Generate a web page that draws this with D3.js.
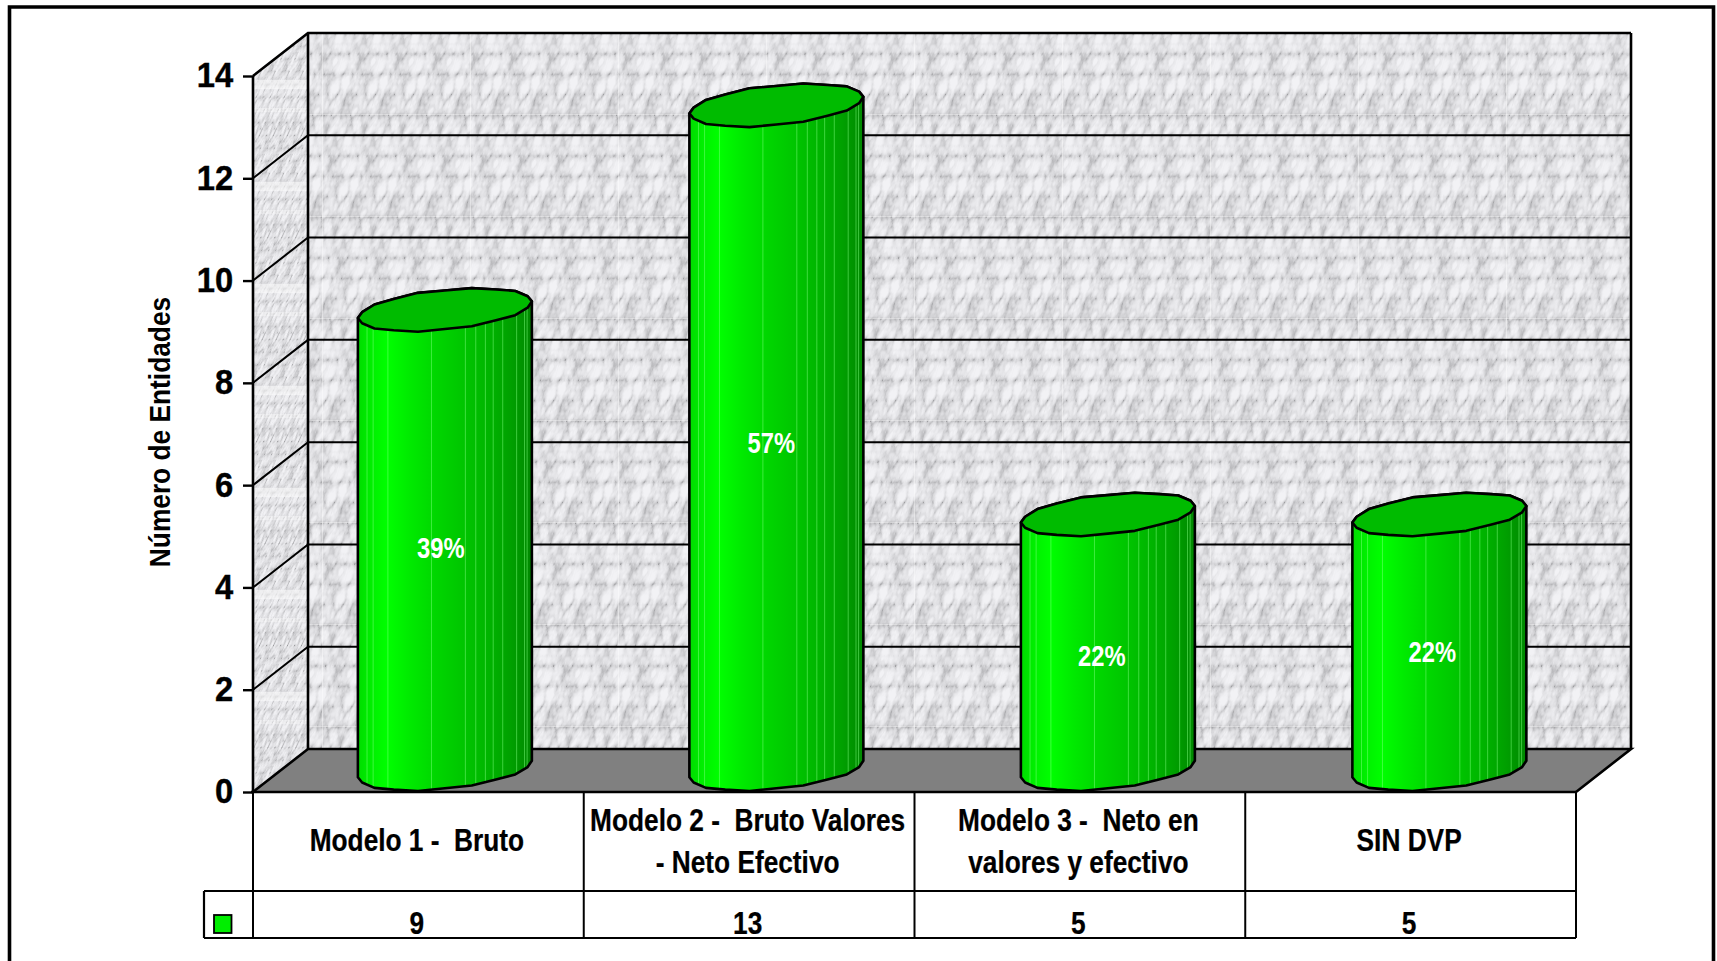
<!DOCTYPE html>
<html><head><meta charset="utf-8">
<style>html,body{margin:0;padding:0;background:#fff;overflow:hidden}svg{display:block}
text{font-family:"Liberation Sans",Arial,sans-serif;font-weight:bold;fill:#000}</style>
<script src="https://cdn.jsdelivr.net/npm/d3@7"></script></head><body>
<script>
const categories = ["Modelo 1 -  Bruto", "Modelo 2 -  Bruto Valores|- Neto Efectivo", "Modelo 3 -  Neto en|valores y efectivo", "SIN DVP"];
const values = [9, 13, 5, 5];
const shares = ["39%", "57%", "22%", "22%"];
const yTicks = [0, 2, 4, 6, 8, 10, 12, 14];
const axisTitle = "Número de Entidades";

const W = 1717, H = 961, DX = 55, DY = 43;
const L = 253, R = 1576, Y0 = 792, Y14 = 76;
const x = d3.scaleBand().domain(categories).range([L, R]);
const y = d3.scaleLinear().domain([0, 14]).range([Y0, Y14]);
const svg = d3.select("body").append("svg").attr("width", W).attr("height", H);
const defs = svg.append("defs");

// marble textures: inverted turbulence gives thin grey veins on a pale ground
function marble(id, fx, fy, seed, tab) {
  const f = defs.append("filter").attr("id", id).attr("x", 0).attr("y", 0).attr("width", 1).attr("height", 1)
    .attr("color-interpolation-filters", "sRGB");
  f.append("feTurbulence").attr("type", "turbulence").attr("baseFrequency", fx + " " + fy)
    .attr("numOctaves", 3).attr("seed", seed).attr("stitchTiles", "stitch");
  f.append("feColorMatrix").attr("type", "matrix").attr("values", "1.1 0.9 0 0 0  1.1 0.9 0 0 0  1.1 0.9 0 0 0  0 0 0 0 1");
  const t = f.append("feComponentTransfer");
  t.append("feFuncR").attr("type", "table").attr("tableValues", tab);
  t.append("feFuncG").attr("type", "table").attr("tableValues", tab);
  t.append("feFuncB").attr("type", "table").attr("tableValues", tab.split(" ").map(v => Math.min(1, +v + .012)).join(" "));
}
const marbleTable = "0.60 0.70 0.77 0.82 0.86 0.89 0.91 0.93 0.95";
marble("mBack", 0.105, 0.052, 5, marbleTable);
marble("mSide", 0.29, 0.078, 11, marbleTable);

const pb = defs.append("pattern").attr("id", "pBack").attr("patternUnits", "userSpaceOnUse")
  .attr("width", 38).attr("height", 102).attr("x", 308).attr("y", 34).attr("patternTransform", "skewX(-16)");
pb.append("rect").attr("width", 38).attr("height", 102).attr("filter", "url(#mBack)");

const ps = defs.append("pattern").attr("id", "pSide").attr("patternUnits", "userSpaceOnUse")
  .attr("width", 14).attr("height", 102).attr("x", 253).attr("y", 34).attr("patternTransform", "skewX(-25)");
ps.append("rect").attr("width", 14).attr("height", 102).attr("filter", "url(#mSide)");

// faint light seams of the tiled wallpaper
const seams = defs.append("pattern").attr("id", "pSeam").attr("patternUnits", "userSpaceOnUse")
  .attr("width", 148).attr("height", 102).attr("x", 322).attr("y", 34);
seams.append("rect").attr("y", 80).attr("width", 148).attr("height", 1).attr("fill", "#fff").attr("opacity", .35);
seams.append("rect").attr("x", 0).attr("width", 1).attr("height", 102).attr("fill", "#fff").attr("opacity", .4);

const bands = defs.append("pattern").attr("id", "pBand").attr("patternUnits", "userSpaceOnUse")
  .attr("width", 14).attr("height", 102).attr("x", 253).attr("y", 34);
bands.append("rect").attr("y", 46).attr("width", 14).attr("height", 9).attr("fill", "#fff").attr("opacity", .5);
bands.append("rect").attr("y", 74).attr("width", 14).attr("height", 4).attr("fill", "#fff").attr("opacity", .35);

const stops = [[0, "#00dc00"], [.08, "#00f000"], [.17, "#00ff00"], [.3, "#00ea00"], [.45, "#00d600"], [.6, "#00c600"], [.75, "#00b400"], [.88, "#00a000"], [1, "#008800"]];
const grad = defs.append("linearGradient").attr("id", "cyl");
stops.forEach(s => grad.append("stop").attr("offset", s[0]).attr("stop-color", s[1]));

const lw = 2.6;
const g = svg.append("g");

// walls and floor
const backTop = y(14) - DY, backBot = y(0) - DY;
g.append("rect").attr("x", L + DX).attr("y", backTop).attr("width", R - L).attr("height", backBot - backTop).attr("fill", "url(#pBack)");
g.append("rect").attr("x", L + DX).attr("y", backTop).attr("width", R - L).attr("height", backBot - backTop).attr("fill", "url(#pSeam)");
const sideD = `M${L},${y(0)}L${L},${y(14)}L${L + DX},${backTop}L${L + DX},${backBot}Z`;
g.append("path").attr("d", sideD).attr("fill", "url(#pSide)");
g.append("path").attr("d", sideD).attr("fill", "url(#pBand)");
g.append("path").attr("d", `M${L},${y(0)}L${R},${y(0)}L${R + DX},${backBot}L${L + DX},${backBot}Z`).attr("fill", "#808080");

// gridlines
yTicks.forEach(t => {
  if (t > 0) g.append("path").attr("d", `M${L},${y(t)}L${L + DX},${y(t) - DY}L${R + DX},${y(t) - DY}`).attr("fill", "none").attr("stroke", "#000").attr("stroke-width", t === 14 ? lw : 2);
});
g.append("path").attr("d", `M${L},${y(0)}L${L + DX},${backBot}L${R + DX},${backBot}L${R},${y(0)}`).attr("fill", "none").attr("stroke", "#000").attr("stroke-width", lw);
g.append("path").attr("d", `M${L + DX},${backTop}L${L + DX},${backBot}M${R + DX},${backTop}L${R + DX},${backBot}`).attr("stroke", "#000").attr("stroke-width", lw);

// cylinders: faceted, slightly uneven rings like the original polygon mesh
const stripes = [.05, .085, .17, .42, .615, .675, .73, .775, .83, .91, .955, .97];
const wobble = [0, .5, -.4, .7, -.2, .6, -.6, .4, -.3, .7, 0, -.5, .5, -.3, .6, -.5, .3, -.6, .5, -.2];
const A = 87, B = 19.8, C = 8.3, SEG = 20;
const ell = (cx, cy, t, k) => [cx + A * Math.cos(t), cy - B * Math.sin(t) - C * Math.cos(t) + wobble[k % wobble.length]];
const line = d3.line();
function ringPts(cx, cy, from, to) {
  const p = [];
  for (let k = from; k <= to; k++) p.push(ell(cx, cy, 2 * Math.PI * k / SEG, k));
  return p;
}
const pctStyle = (sel, px, py) => sel.attr("transform", `translate(${px},${py}) scale(.82,1)`).attr("text-anchor", "middle").attr("dy", "0.36em").attr("font-size", 29).style("fill", "#fff");
const barDrift = 0.75;
values.forEach((v, i) => {
  const cat = categories[i];
  const cx = x(cat) + x.bandwidth() / 2 + DX / 2 - 1 + i * barDrift;
  const by = y(0) - DY / 2 - 1.5, ty = y(v) - DY / 2 - 0.5;
  const lower = ringPts(cx, by, SEG / 2, SEG);
  const upperBack = ringPts(cx, ty, 0, SEG / 2);
  const bodyPts = lower.concat(upperBack);
  const b = g.append("g");
  const cid = "clip" + i;
  defs.append("clipPath").attr("id", cid).append("path").attr("d", line(bodyPts) + "Z");
  b.append("path").attr("d", line(bodyPts) + "Z").attr("fill", "url(#cyl)");
  b.append("g").attr("clip-path", `url(#${cid})`).selectAll("rect").data(stripes).join("rect")
    .attr("x", f => cx - A + 2 * A * f).attr("y", ty - 40).attr("width", 0.9).attr("height", by - ty + 80)
    .attr("fill", "#7dff7d").attr("opacity", .55);
  b.append("path").attr("d", line(bodyPts) + "Z").attr("fill", "none").attr("stroke", "#000").attr("stroke-width", lw).attr("stroke-linejoin", "round");
  b.append("path").attr("d", line(ringPts(cx, ty, 0, SEG)) + "Z").attr("fill", "#00bb00").attr("stroke", "#000").attr("stroke-width", lw).attr("stroke-linejoin", "round");
  const nudge = [8, 5, 14, 10][i];
  g.append("text").text(shares[i]).call(pctStyle, cx - 4 - i * barDrift * 1.4, (by + ty) / 2 + nudge);
});

// y axis
const ax = d3.axisLeft(y).tickValues(yTicks).tickSize(10).tickFormat(d3.format("d"));
const ag = svg.append("g").attr("transform", `translate(${L},0)`).call(ax);
ag.select(".domain").attr("stroke", "#000").attr("stroke-width", lw).attr("d", `M0,${y(14)}V${y(0)}`);
ag.selectAll(".tick line").attr("stroke", "#000").attr("stroke-width", 2.4);
ag.selectAll(".tick text").attr("font-size", 36).attr("x", -21.7).attr("dy", "0.305em")
  .attr("transform", "scale(.91,1)").attr("stroke", "#000").attr("stroke-width", .4);

svg.append("text").text(axisTitle).attr("transform", "translate(159,432) rotate(-90) scale(.877,1)").attr("text-anchor", "middle").attr("dy", "0.36em").attr("font-size", 30);

// data table
const T0 = y(0), T1 = 891, T2 = 938, LG = 204;
const t = svg.append("g").attr("stroke", "#000");
t.append("path").attr("d", `M${L - 2},${T0}H${R}`).attr("stroke-width", lw);
t.append("path").attr("d", `M${LG},${T1}H${R}M${LG},${T2}H${R}M${LG},${T1}V${T2}`).attr("stroke-width", 2.2).attr("fill", "none");
const dividers = [L].concat(categories.map(c => x(c) + x.bandwidth()));
t.selectAll("line").data(dividers).join("line").attr("x1", d => d).attr("x2", d => d).attr("y1", T0).attr("y2", T2).attr("stroke-width", 2);
svg.append("rect").attr("x", 214).attr("y", 915).attr("width", 17.5).attr("height", 18).attr("fill", "#00ee00").attr("stroke", "#000").attr("stroke-width", 1.8);
const cellText = (sel, px, py) => sel.attr("transform", `translate(${px},${py}) scale(.847,1)`).attr("dy", "0.36em").attr("text-anchor", "middle").attr("font-size", 31).attr("stroke", "#000").attr("stroke-width", .25);
categories.forEach((c, i) => {
  const cx = x(c) + x.bandwidth() / 2 - 1.5;
  const lines = c.split("|");
  const mid = lines.length > 1 ? 841 : 840;
  lines.forEach((s, k) => svg.append("text").style("white-space", "pre").text(s).call(cellText, cx, mid + (k - (lines.length - 1) / 2) * 42));
  svg.append("text").text(values[i]).call(cellText, cx, 922.5);
});

// outer frame (open at the bottom)
svg.append("path").attr("d", `M9.5,${H + 5}V7H1713.5V${H + 5}`).attr("fill", "none").attr("stroke", "#000").attr("stroke-width", 3.6);
</script></body></html>
